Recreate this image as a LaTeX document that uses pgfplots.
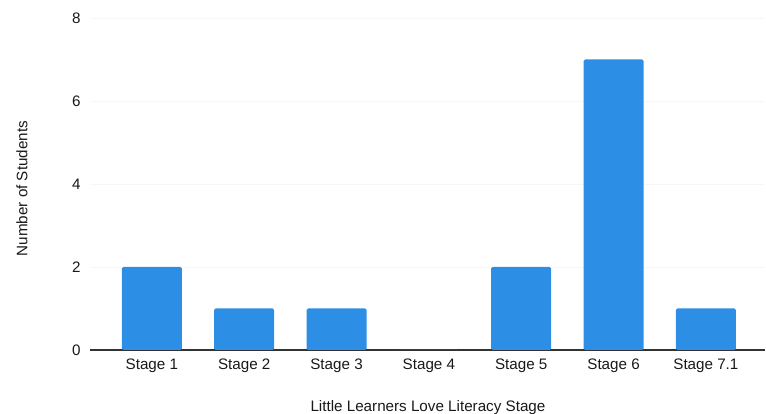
\documentclass[border=0pt]{standalone}
\usepackage{pgfplots}
\pgfplotsset{compat=1.18}
\usepackage{fontspec}
\setmainfont{Liberation Sans}
\definecolor{barblue}{RGB}{44,142,228}
\definecolor{axisdark}{RGB}{51,51,51}
\begin{document}
\begin{tikzpicture}[x=1pt,y=1pt]
\path[use as bounding box] (0,0) rectangle (766,414);
\begin{axis}[
  at={(90pt,64pt)}, anchor=south west,
  width=675pt, height=332pt, scale only axis,
  xmin=-0.67, xmax=6.64,
  ymin=0, ymax=8,
  ytick={0,2,4,6,8},
  xtick={0,...,6},
  xticklabels={Stage 1,Stage 2,Stage 3,Stage 4,Stage 5,Stage 6,Stage 7.1},
  axis x line*=bottom,
  axis y line*=left,
  x axis line style={axisdark, line width=1.1pt, -},
  y axis line style={draw=none},
  major tick length=0pt,
  ymajorgrids, grid style={black!3, line width=0.8pt},
  tick label style={font=\fontsize{15.2}{18}\selectfont, text=black!90},
  /pgf/number format/assume math mode=true,
  xticklabel style={yshift=-5pt},
  yticklabel style={xshift=-6pt},
  label style={font=\fontsize{15.2}{18}\selectfont, text=black!90},
  xlabel={Little Learners Love Literacy Stage},
  xlabel style={at={(axis description cs:0.5007,-0.172)}, anchor=center},
  ylabel={Number of Students},
  ylabel style={at={(axis description cs:-0.101,0.486)}, anchor=center},
  clip=false,
]
\addplot[ybar, bar width=60pt, fill=barblue, draw=none, bar shift=0pt,
         rounded corners=1.5pt]
  coordinates {(0,2) (1,1) (2,1) (3,0) (4,2) (5,7) (6,1)};
\end{axis}
\end{tikzpicture}
\end{document}
